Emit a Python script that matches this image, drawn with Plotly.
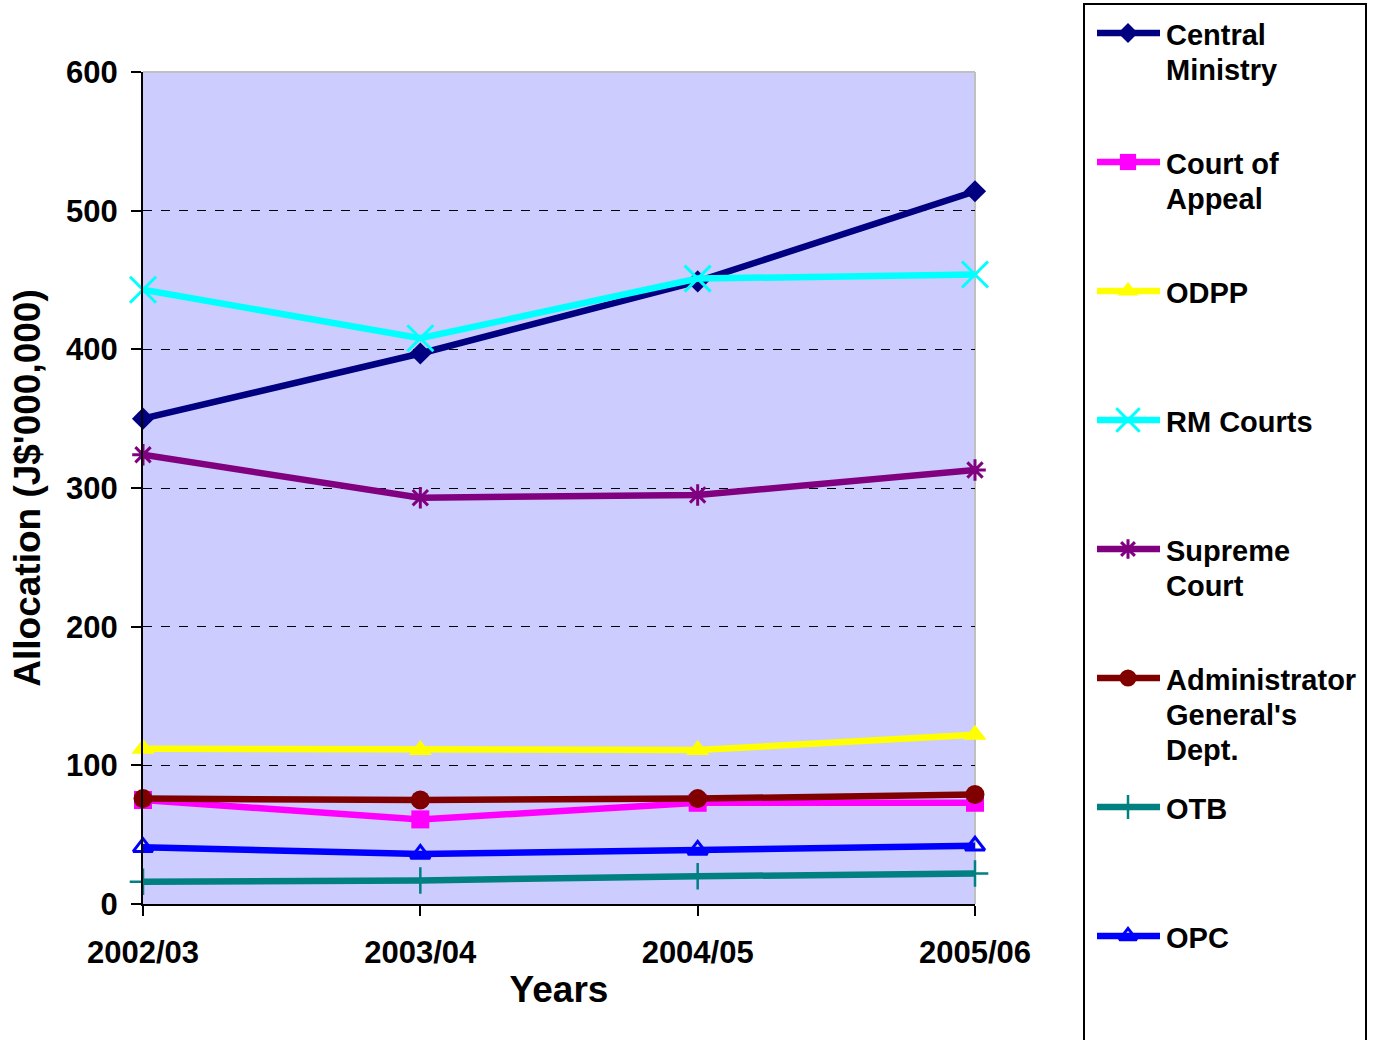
import plotly.graph_objects as go

# Budget allocation by department, J$ millions
years = ["2002/03", "2003/04", "2004/05", "2005/06"]

central_ministry = [350, 397, 449, 514]
court_of_appeal = [75, 61, 73, 73]
odpp = [112, 111, 111, 122]
rm_courts = [443, 408, 451, 454]
supreme_court = [324, 293, 295, 313]
admin_general = [76, 75, 76, 79]
otb = [16, 17, 20, 22]
opc = [41, 36, 39, 42]

names = ["Central\nMinistry", "Court of\nAppeal", "ODPP", "RM Courts",
         "Supreme\nCourt", "Administrator\nGeneral's\nDept.", "OTB", "OPC"]
values = [central_ministry, court_of_appeal, odpp, rm_courts,
          supreme_court, admin_general, otb, opc]

y_ticks = [0, 100, 200, 300, 400, 500, 600]

# per-series styling: colour, marker symbol, marker size, marker outline width
styles = [
    ("#000080", "diamond", 17, 0),
    ("#FF00FF", "square", 18, 0),
    ("#FFFF00", "triangle-up", 20, 0),
    ("#00FFFF", "x-thin-open", 26, 3),
    ("#800080", "asterisk-open", 18, 3),
    ("#800000", "circle", 19, 0),
    ("#008080", "cross-thin-open", 19, 2.5),
    ("#0000FF", "triangle-up-open", 17, 3),
]

W, H = 1376, 1040
PLOT_L, PLOT_R, PLOT_T, PLOT_B = 143, 975, 72, 904
FONT = "Liberation Sans, Arial, sans-serif"
LINE_W = 6.5

fig = go.Figure()

# data series
for name, vals, (color, symbol, msize, mline) in zip(names, values, styles):
    fig.add_trace(go.Scatter(
        x=years, y=vals, name=name.replace("\n", " "), mode="lines+markers",
        line=dict(color=color, width=LINE_W),
        marker=dict(symbol=symbol, size=msize, color=color, opacity=1,
                    line=dict(color=color, width=mline)),
        cliponaxis=False, showlegend=False,
        xaxis="x", yaxis="y",
    ))

# legend panel, drawn on a page-sized pixel axis
LEG_X0, LEG_X1 = 1084, 1366
SAMPLE_X0, SAMPLE_XM, SAMPLE_X1 = 1097, 1128, 1160
TEXT_X = 1164
ROW0, ROW_STEP, LINE_STEP = 33, 129, 35

annotations = []
for i, (name, (color, symbol, msize, mline)) in enumerate(zip(names, styles)):
    ry = ROW0 + ROW_STEP * i
    fig.add_trace(go.Scatter(
        x=[SAMPLE_X0, SAMPLE_XM, SAMPLE_X1], y=[ry, ry, ry],
        mode="lines+markers",
        line=dict(color=color, width=LINE_W),
        marker=dict(symbol=symbol, size=[0, msize * 0.9, 0], color=color,
                    opacity=1, line=dict(color=color, width=mline)),
        showlegend=False, hoverinfo="skip",
        xaxis="x2", yaxis="y2",
    ))
    for k, part in enumerate(name.split("\n")):
        annotations.append(dict(
            text=part, xref="paper", yref="paper",
            x=TEXT_X / W, y=1 - (ry + 2 + LINE_STEP * k) / H,
            xanchor="left", yanchor="middle", showarrow=False,
            font=dict(family=FONT, size=29, weight="bold", color="black"),
        ))

fig.update_layout(
    width=W, height=H,
    margin=dict(l=0, r=0, t=0, b=0, autoexpand=False),
    paper_bgcolor="white",
    plot_bgcolor="rgba(0,0,0,0)",
    font=dict(family=FONT, color="black"),
    showlegend=False,
    xaxis=dict(
        domain=[PLOT_L / W, PLOT_R / W], anchor="y",
        range=[0, 3], type="category",
        showgrid=False, zeroline=False,
        showline=True, linecolor="black", linewidth=2,
        ticks="outside", ticklen=10, tickwidth=2, tickcolor="black",
        tickfont=dict(family=FONT, size=31, weight="bold"),
        ticklabelstandoff=10,
        title=dict(text="Years", font=dict(family=FONT, size=37, weight="bold"),
                   standoff=7),
        fixedrange=True,
    ),
    yaxis=dict(
        domain=[1 - PLOT_B / H, 1 - PLOT_T / H], anchor="x",
        range=[0, 600], tickvals=y_ticks,
        showgrid=True, gridcolor="black", griddash="dash", gridwidth=1,
        zeroline=False,
        showline=True, linecolor="black", linewidth=2,
        ticks="outside", ticklen=10, tickwidth=2, tickcolor="black",
        tickfont=dict(family=FONT, size=31, weight="bold"),
        ticklabelstandoff=7,
        title=dict(text="Allocation (J$'000,000)",
                   font=dict(family=FONT, size=37, weight="bold"), standoff=14),
        fixedrange=True,
    ),
    xaxis2=dict(domain=[0, 1], range=[0, W], anchor="y2", visible=False,
                fixedrange=True),
    yaxis2=dict(domain=[0, 1], range=[H, 0], anchor="x2", visible=False,
                fixedrange=True),
    shapes=[
        # plot area fill
        dict(type="rect", xref="x domain", yref="y domain", x0=0, x1=1, y0=0, y1=1,
             fillcolor="#CCCCFF", line=dict(width=0), layer="below"),
        # light frame on the top and right of the plot area
        dict(type="line", xref="x domain", yref="y domain", x0=0, x1=1, y0=1, y1=1,
             line=dict(color="#C0C0C0", width=2), layer="below"),
        dict(type="line", xref="x domain", yref="y domain", x0=1, x1=1, y0=0, y1=1,
             line=dict(color="#C0C0C0", width=2), layer="below"),
        # legend box
        dict(type="rect", xref="paper", yref="paper",
             x0=LEG_X0 / W, x1=LEG_X1 / W, y0=-0.02, y1=1 - 4 / H,
             line=dict(color="black", width=2), fillcolor="white", layer="below"),
    ],
    annotations=annotations,
)

fig.write_html("out.html")
